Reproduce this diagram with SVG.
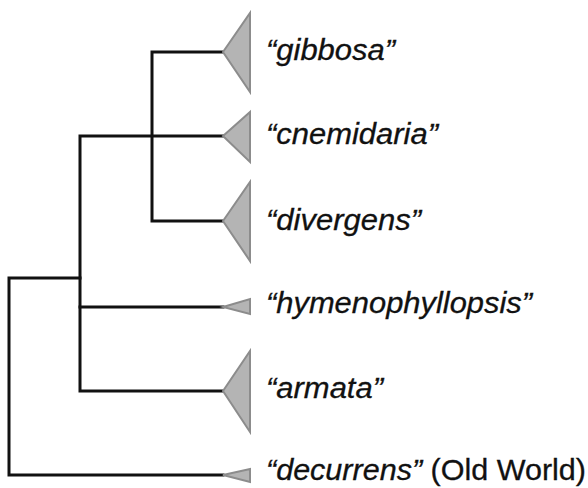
<svg xmlns="http://www.w3.org/2000/svg" width="588" height="488" viewBox="0 0 588 488">
<style>
.br{fill:none;stroke:#111;stroke-width:3;stroke-linecap:square}
.tri{fill:#b4b4b4;stroke:#8c8c8c;stroke-width:2;stroke-linejoin:miter}
.lab{font-family:"Liberation Sans",Arial,sans-serif;font-size:29px;fill:#111;stroke:#111;stroke-width:0.3}
.it{font-style:italic}
</style>
<rect width="588" height="488" fill="#fff"/>
<g id="connectors">
<path class="br" d="M223,52 H152 V221 H223"/>
<path class="br" d="M223,136 H80 V391 H223"/>
<path class="br" d="M80,307 H223"/>
<path class="br" d="M80,278 H9 V475 H223"/>
</g>
<g id="gibbosa">
<polygon class="tri" points="223,52 250,13 250,92"/>
<text class="lab it" x="266" y="60" textLength="129" lengthAdjust="spacingAndGlyphs">“gibbosa”</text>
</g>
<g id="cnemidaria">
<polygon class="tri" points="223,136 250,112 250,162"/>
<text class="lab it" x="266" y="144" textLength="172" lengthAdjust="spacingAndGlyphs">“cnemidaria”</text>
</g>
<g id="divergens">
<polygon class="tri" points="223,221 250,182 250,261"/>
<text class="lab it" x="266" y="230" textLength="155" lengthAdjust="spacingAndGlyphs">“divergens”</text>
</g>
<g id="hymenophyllopsis">
<polygon class="tri" points="223,307 250,299 250,314"/>
<text class="lab it" x="266" y="313" textLength="266" lengthAdjust="spacingAndGlyphs">“hymenophyllopsis”</text>
</g>
<g id="armata">
<polygon class="tri" points="223,391 250,351 250,432"/>
<text class="lab it" x="266" y="398" textLength="117" lengthAdjust="spacingAndGlyphs">“armata”</text>
</g>
<g id="decurrens">
<polygon class="tri" points="223,475 250,469 250,482"/>
<text class="lab" x="266" y="480" textLength="320" lengthAdjust="spacingAndGlyphs"><tspan class="it">“decurrens”</tspan> (Old World)</text>
</g>
</svg>
